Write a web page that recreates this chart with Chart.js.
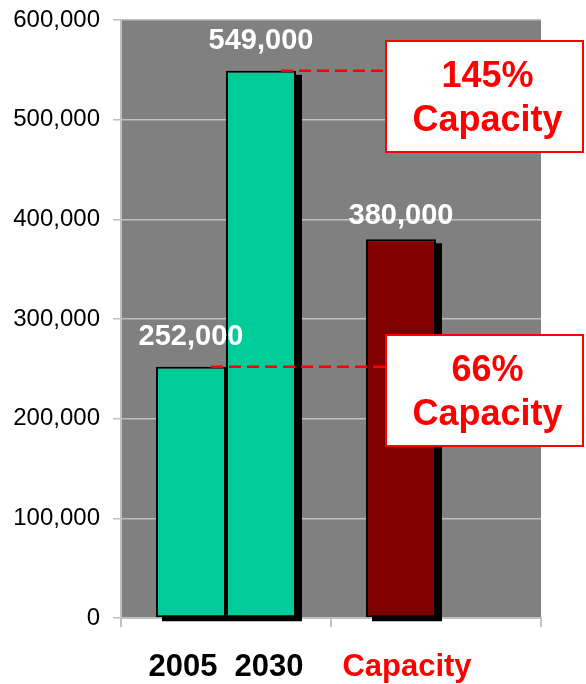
<!DOCTYPE html>
<html>
<head>
<meta charset="utf-8">
<script src="https://cdn.jsdelivr.net/npm/chart.js@4/dist/chart.umd.min.js"></script>
<style>
    body { margin: 0; background: #fff; }
</style>
</head>
<body>
<canvas id="myChart" width="586" height="684"></canvas>
<script>
const groups = ['Demand', 'Supply'];
const firstValues = [252000, 380000];
const secondValues = [549000, null];
const firstNames = ['2005', 'Capacity'];
const secondNames = ['2030', null];
const yTicks = [0, 100000, 200000, 300000, 400000, 500000, 600000];
const calloutText = [['145%', 'Capacity'], ['66%', 'Capacity']];
const calloutValues = [549000, 252000];

const FONT = '"Liberation Sans", Arial, sans-serif';
const TEAL = '#00cc99';
const MAROON = '#800000';
const RED = '#ff0000';

const plotBackground = {
    id: 'plotBackground',
    beforeDraw(chart) {
        const { ctx, chartArea: a } = chart;
        ctx.save();
        ctx.fillStyle = '#808080';
        ctx.fillRect(a.left, a.top, a.right - a.left, a.bottom - a.top);
        ctx.restore();
    }
};

const barShadows = {
    id: 'barShadows',
    beforeDatasetsDraw(chart) {
        const ctx = chart.ctx;
        ctx.save();
        ctx.fillStyle = '#000';
        chart.data.datasets.forEach((ds, i) => {
            chart.getDatasetMeta(i).data.forEach((bar, j) => {
                if (ds.data[j] == null) return;
                const p = bar.getProps(['x', 'y', 'base', 'width'], true);
                ctx.fillRect(p.x - p.width / 2 + 6, p.y + 4, p.width, p.base - p.y);
            });
        });
        ctx.restore();
    }
};

// value labels above the bars and names under them
const liftByGroup = [30, 23];
const nameNudge = [[-8, 6], [8, 0]];
const barText = {
    id: 'barText',
    afterDatasetsDraw(chart) {
        const ctx = chart.ctx;
        const names = [firstNames, secondNames];
        ctx.save();
        ctx.textAlign = 'center';
        ctx.textBaseline = 'middle';
        chart.data.datasets.forEach((ds, i) => {
            chart.getDatasetMeta(i).data.forEach((bar, j) => {
                if (ds.data[j] == null) return;
                const p = bar.getProps(['x', 'y'], true);
                ctx.fillStyle = '#fff';
                ctx.font = 'bold 29px ' + FONT;
                ctx.fillText(ds.data[j].toLocaleString('en-US'), p.x, p.y - liftByGroup[j]);
                ctx.fillStyle = names[i][j] === 'Capacity' ? RED : '#000';
                ctx.font = 'bold 31px ' + FONT;
                ctx.fillText(names[i][j], p.x + nameNudge[i][j], 667);
            });
        });
        ctx.restore();
    }
};

const callouts = {
    id: 'callouts',
    afterDraw(chart) {
        const ctx = chart.ctx;
        const y = chart.scales.y;
        const boxLeft = 386, boxW = 197, boxH = 111;
        const boxTops = [41, 335];
        // dashed line starts near the right edge of the bar it refers to
        const startBars = [[1, 0], [0, 0]];
        ctx.save();
        calloutValues.forEach((v, k) => {
            const bar = chart.getDatasetMeta(startBars[k][0]).data[startBars[k][1]];
            const p = bar.getProps(['x', 'width'], true);
            const ly = y.getPixelForValue(v);
            ctx.strokeStyle = RED;
            ctx.lineWidth = 2.5;
            ctx.setLineDash([12, 6]);
            ctx.beginPath();
            ctx.moveTo(p.x + p.width / 2 - 15, ly);
            ctx.lineTo(boxLeft, ly);
            ctx.stroke();
            ctx.setLineDash([]);

            ctx.fillStyle = '#fff';
            ctx.fillRect(boxLeft, boxTops[k], boxW, boxH);
            ctx.lineWidth = 2;
            ctx.strokeRect(boxLeft, boxTops[k], boxW, boxH);

            ctx.fillStyle = RED;
            ctx.font = 'bold 36px ' + FONT;
            ctx.textAlign = 'center';
            ctx.textBaseline = 'middle';
            ctx.fillText(calloutText[k][0], boxLeft + boxW / 2 + 3, boxTops[k] + 36);
            ctx.fillText(calloutText[k][1], boxLeft + boxW / 2 + 3, boxTops[k] + 80);
        });
        ctx.restore();
    }
};

const ctx = document.getElementById('myChart').getContext('2d');
const myChart = new Chart(ctx, {
    type: 'bar',
    data: {
        labels: groups,
        datasets: [
            {
                data: firstValues,
                backgroundColor: [TEAL, MAROON],
                borderColor: '#000',
                borderWidth: 2,
                borderSkipped: false
            },
            {
                data: secondValues,
                backgroundColor: TEAL,
                borderColor: '#000',
                borderWidth: 2,
                borderSkipped: false
            }
        ]
    },
    options: {
        responsive: false,
        animation: false,
        categoryPercentage: 2 / 3,
        barPercentage: 1,
        layout: { padding: { top: 20, right: 45, left: 0, bottom: 0 } },
        plugins: { legend: { display: false }, tooltip: { enabled: false } },
        scales: {
            x: {
                ticks: { display: false },
                grid: { drawOnChartArea: false, drawTicks: true, tickLength: 9, color: '#c0c0c0', lineWidth: 2 },
                border: { color: '#c0c0c0', width: 2 },
                afterFit(scale) { scale.height = 66; }
            },
            y: {
                min: 0,
                max: 600000,
                afterBuildTicks(scale) { scale.ticks = yTicks.map(v => ({ value: v })); },
                ticks: {
                    color: '#000',
                    padding: 13,
                    font: { family: FONT, size: 24 },
                    callback: v => v.toLocaleString('en-US')
                },
                grid: { color: '#c0c0c0', lineWidth: 1.5, tickLength: 8 },
                border: { color: '#c0c0c0', width: 2 },
                afterFit(scale) {
                    scale.width = 121;
                    scale.paddingTop = 0;
                    scale.paddingBottom = 0;
                }
            }
        }
    },
    plugins: [plotBackground, barShadows, barText, callouts]
});
</script>
</body>
</html>
